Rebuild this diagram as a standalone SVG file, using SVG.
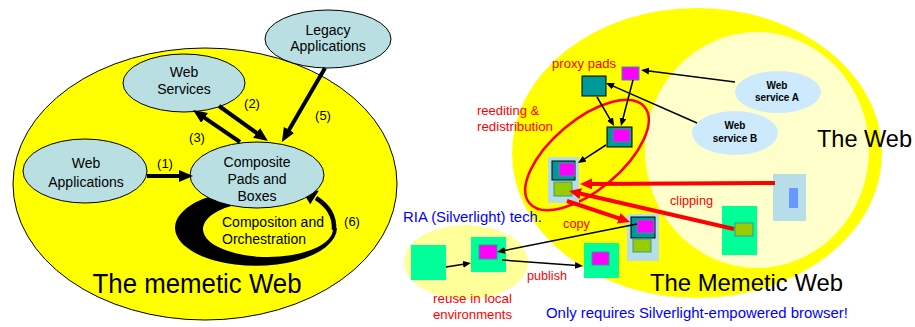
<svg xmlns="http://www.w3.org/2000/svg" width="915" height="327" viewBox="0 0 915 327">
<defs>
<style>
text{font-family:"Liberation Sans",Arial,sans-serif;}
.nd{fill:#B9DFE3;stroke:#000;stroke-width:1;}
.t14{font-size:14px;fill:#000;text-anchor:middle;}
.lbl{font-size:13px;fill:#000;text-anchor:middle;}
.red{fill:#FF0000;font-size:13px;}
.blue{fill:#0000FF;font-size:14px;}
.big{font-size:27px;fill:#000;}
.ws{fill:#CCEAFC;}
.wst{font-size:10px;font-weight:bold;fill:#000;text-anchor:middle;}
.thick{stroke:#000;stroke-width:4;fill:none;marker-end:url(#hb);}
.thin{stroke:#000;stroke-width:1.5;fill:none;marker-end:url(#hs);}
.rth{stroke:#FF0000;stroke-width:4;fill:none;marker-end:url(#hr);}
.bg{fill:#B7DEE8;}
.teal{fill:#009999;stroke:#000;stroke-width:1;}
.mag{fill:#FF00FF;stroke:#339999;stroke-width:1;}
.olive{fill:#99CC00;stroke:#339999;stroke-width:1;}
.grn{fill:#00FF99;}
</style>
<marker id="hb" viewBox="0 -6 14 12" refX="3" refY="0" markerWidth="14" markerHeight="12" markerUnits="userSpaceOnUse" orient="auto"><path d="M0,-6 L14,0 L0,6 z" fill="#000"/></marker>
<marker id="hs" viewBox="0 -3.5 8 7" refX="2" refY="0" markerWidth="8" markerHeight="7" markerUnits="userSpaceOnUse" orient="auto"><path d="M0,-3.5 L8,0 L0,3.5 z" fill="#000"/></marker>
<marker id="hr" viewBox="0 -5.5 12 11" refX="3" refY="0" markerWidth="12" markerHeight="11" markerUnits="userSpaceOnUse" orient="auto"><path d="M0,-5.5 L12,0 L0,5.5 z" fill="#FF0000"/></marker>
</defs>

<!-- LEFT DIAGRAM -->
<g id="memetic-web-left">
<ellipse cx="205" cy="184" rx="192" ry="136" fill="#FFFF00" stroke="#000" stroke-width="1"/>
<text class="big" x="197" y="293" text-anchor="middle" textLength="209" lengthAdjust="spacingAndGlyphs">The memetic Web</text>
</g>

<g id="orchestration-loop">
<path d="M215,195 A81 38 0 1 0 337,228 L333,229 A65 28 0 1 1 235.5,204.8 Z" fill="#000"/>
<path d="M334,230 C335,215 327,205 316,198" stroke="#000" stroke-width="4.5" fill="none"/>
<polygon points="301,189 318.8,190.7 310.2,204.3" fill="#000"/>
<text class="t14" x="222" y="227" text-anchor="start" style="text-anchor:start">Compositon and</text>
<text class="t14" x="222" y="244" style="text-anchor:start">Orchestration</text>
<text class="lbl" x="352" y="226">(6)</text>
</g>

<g id="legacy-applications">
<ellipse class="nd" cx="328" cy="39" rx="63" ry="29"/>
<text class="t14" x="328" y="35">Legacy</text>
<text class="t14" x="328" y="51">Applications</text>
</g>

<g id="web-services">
<ellipse class="nd" cx="184" cy="83" rx="61" ry="29"/>
<text class="t14" x="184" y="77">Web</text>
<text class="t14" x="184" y="94">Services</text>
</g>

<g id="web-applications">
<ellipse class="nd" cx="85" cy="171" rx="62" ry="32"/>
<text class="t14" x="86" y="168">Web</text>
<text class="t14" x="86" y="187">Applications</text>
</g>

<g id="composite-pads">
<ellipse class="nd" cx="257" cy="175" rx="67" ry="33"/>
<text class="t14" x="257" y="167">Composite</text>
<text class="t14" x="257" y="184">Pads and</text>
<text class="t14" x="257" y="201">Boxes</text>
</g>

<g id="left-connectors">
<line class="thick" x1="147" y1="176" x2="182" y2="176"/>
<line class="thick" x1="219" y1="106" x2="259" y2="134.6"/>
<line class="thick" x1="240" y1="142" x2="202.1" y2="116.2"/>
<line class="thick" x1="325" y1="68" x2="287.5" y2="132.5"/>
<text class="lbl" x="165" y="168">(1)</text>
<text class="lbl" x="252" y="108">(2)</text>
<text class="lbl" x="197" y="142">(3)</text>
<text class="lbl" x="323" y="120">(5)</text>
</g>

<!-- RIGHT DIAGRAM -->
<g id="memetic-web-right">
<ellipse cx="697" cy="153" rx="185" ry="145" fill="#FFFF00"/>
<text class="big" x="650" y="291" style="font-size:24px" textLength="193" lengthAdjust="spacingAndGlyphs">The Memetic Web</text>
</g>

<g id="the-web">
<ellipse cx="757" cy="150" rx="112" ry="118" fill="#FFFFCC"/>
<text class="big" x="817" y="147" style="font-size:24px" textLength="95" lengthAdjust="spacingAndGlyphs">The Web</text>
</g>

<g id="ria-local">
<ellipse cx="466" cy="262" rx="62" ry="37" fill="#FFFF99"/>
<text class="blue" x="403" y="222" textLength="139" lengthAdjust="spacingAndGlyphs">RIA (Silverlight) tech.</text>
<text class="red" x="433" y="303" textLength="79" lengthAdjust="spacingAndGlyphs">reuse in local</text>
<text class="red" x="433" y="319" textLength="79" lengthAdjust="spacingAndGlyphs">environments</text>
</g>

<g id="reediting-loop">
<ellipse cx="587" cy="155" rx="75" ry="35" transform="rotate(-40 587 155)" fill="none" stroke="#FF0000" stroke-width="2.5"/>
<text class="red" x="477" y="115">reediting &amp;</text>
<text class="red" x="477" y="131" textLength="76" lengthAdjust="spacingAndGlyphs">redistribution</text>
</g>

<g id="web-service-a">
<ellipse class="ws" cx="778" cy="92" rx="43" ry="21"/>
<text class="wst" x="777" y="89">Web</text>
<text class="wst" x="777" y="101">service A</text>
</g>

<g id="web-service-b">
<ellipse class="ws" cx="735" cy="133" rx="43" ry="22"/>
<text class="wst" x="735" y="129">Web</text>
<text class="wst" x="735" y="142">service B</text>
</g>

<g id="proxy-pads">
<text class="red" x="552" y="68" textLength="64" lengthAdjust="spacingAndGlyphs">proxy pads</text>
<rect class="teal" x="582" y="76" width="24" height="20"/>
<rect class="mag" x="622" y="67" width="17" height="13"/>
</g>

<g id="composed-pad">
<rect class="teal" x="607" y="127" width="25" height="20"/>
<rect class="mag" x="613" y="129" width="17" height="13"/>
</g>

<g id="box-edit">
<rect class="bg" x="548" y="157" width="31" height="46"/>
<rect class="teal" x="552" y="161" width="23" height="19"/>
<rect class="mag" x="559" y="163" width="16" height="13"/>
<rect class="olive" x="554" y="182" width="18" height="14"/>
</g>

<g id="box-copy">
<rect class="bg" x="627" y="214" width="32" height="47"/>
<rect class="teal" x="631" y="217" width="24" height="21"/>
<rect class="mag" x="637" y="220" width="17" height="13"/>
<rect class="olive" x="633" y="239" width="18" height="13"/>
</g>

<g id="clip-source-blue">
<rect class="bg" x="773" y="174" width="33" height="47"/>
<rect x="789" y="188" width="9" height="20" fill="#6699FF"/>
</g>

<g id="clip-source-green">
<rect class="grn" x="722" y="206" width="35" height="49"/>
<rect class="olive" x="735" y="223" width="18" height="13"/>
<text class="red" x="670" y="205" textLength="43" lengthAdjust="spacingAndGlyphs">clipping</text>
</g>

<g id="local-box-1">
<rect class="grn" x="411" y="245" width="35" height="35"/>
</g>

<g id="local-box-2">
<rect class="grn" x="471" y="237" width="35" height="35"/>
<rect class="mag" x="479" y="245" width="18" height="14"/>
</g>

<g id="published-box">
<rect class="grn" x="584" y="243" width="35" height="35"/>
<rect class="mag" x="592" y="252" width="17" height="13"/>
</g>

<g id="right-connectors">
<line class="thin" x1="735" y1="82" x2="647" y2="70.8"/>
<line class="thin" x1="697" y1="123" x2="611.5" y2="85.4"/>
<line class="thin" x1="597" y1="97" x2="611" y2="120.8"/>
<line class="thin" x1="633" y1="80" x2="622.5" y2="120.2"/>
<line class="thin" x1="606" y1="145" x2="583" y2="159.8"/>
<line class="thin" x1="637" y1="224" x2="503" y2="250.8"/>
<line class="thin" x1="446" y1="267" x2="465" y2="264"/>
<line class="thin" x1="502" y1="260" x2="577" y2="265.6"/>
<line class="rth" x1="775" y1="183" x2="589" y2="184"/>
<line class="rth" x1="734" y1="229" x2="577.8" y2="193"/>
<line class="rth" x1="567" y1="201" x2="621.5" y2="219.2"/>
<text class="red" x="563" y="228" textLength="27" lengthAdjust="spacingAndGlyphs">copy</text>
<text class="red" x="527" y="280" textLength="40" lengthAdjust="spacingAndGlyphs">publish</text>
</g>

<text class="blue" x="546" y="318" textLength="302" lengthAdjust="spacingAndGlyphs">Only requires Silverlight-empowered browser!</text>
</svg>
